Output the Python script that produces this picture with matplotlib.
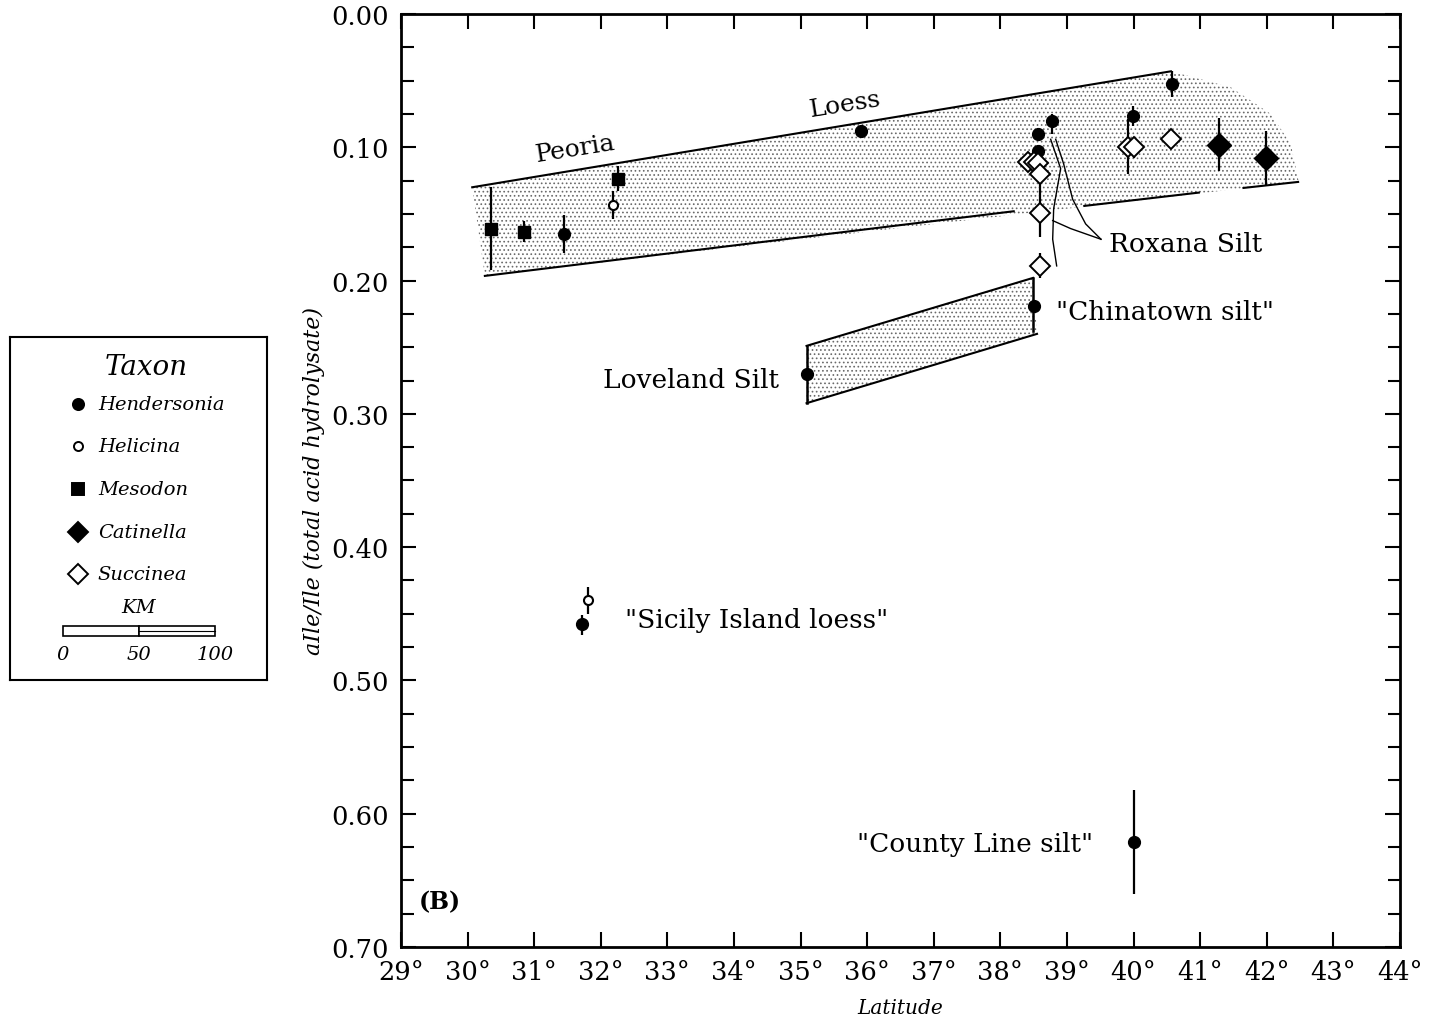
import numpy as np
import matplotlib
matplotlib.use('Agg')
import matplotlib.pyplot as plt
from matplotlib.ticker import MultipleLocator, FuncFormatter
from matplotlib.patches import Rectangle

plt.rcParams['font.family'] = ['DejaVu Serif']
plt.rcParams['hatch.linewidth'] = 0.7

# --- data (latitude, aIle/Ile, error bar below, error bar above) ---
hend_lat = [31.45, 35.91, 38.57, 38.57, 38.78, 39.99, 40.57, 38.50, 35.09, 31.72, 40.00]
hend_val = [0.165, 0.088, 0.090, 0.103, 0.080, 0.0765, 0.0525, 0.219, 0.270, 0.458, 0.621]
hend_lo = [0.014, 0.005, 0.0, 0.0, 0.005, 0.0075, 0.0095, 0.0, 0.0, 0.007, 0.039]
hend_hi = [0.014, 0.005, 0.0, 0.0, 0.010, 0.0075, 0.0095, 0.0, 0.0, 0.008, 0.039]

heli_lat = [32.19, 31.81]
heli_val = [0.143, 0.440]
heli_lo = [0.010, 0.010]
heli_hi = [0.011, 0.010]

meso_lat = [30.35, 30.85, 32.26]
meso_val = [0.161, 0.1635, 0.124]
meso_lo = [0.031, 0.0085, 0.010]
meso_hi = [0.031, 0.0075, 0.009]

cati_lat = [41.28, 41.99]
cati_val = [0.098, 0.108]
cati_lo = [0.020, 0.020]
cati_hi = [0.020, 0.021]

succ_lat = [38.41, 38.50, 38.56, 38.60, 38.60, 38.60, 39.91, 40.00, 40.56]
succ_val = [0.111, 0.111, 0.112, 0.120, 0.149, 0.189, 0.100, 0.100, 0.094]
succ_lo = [0.0, 0.0, 0.0, 0.0, 0.025, 0.010, 0.021, 0.007, 0.0]
succ_hi = [0.0, 0.0, 0.0, 0.0, 0.018, 0.009, 0.020, 0.008, 0.0]

# Peoria Loess band outline
peoria_top_lat = [30.07, 40.56]
peoria_top_val = [0.130, 0.043]
peoria_corner_lat = [40.56, 41.46, 42.06, 42.36, 42.48]
peoria_corner_val = [0.043, 0.055, 0.075, 0.0975, 0.126]
peoria_bot_lat = [42.48, 30.26]
peoria_bot_val = [0.126, 0.1965]
peoria_edges_lat = [[30.26, 38.20], [39.26, 40.98], [41.65, 42.47]]
peoria_edges_val = [[0.1965, 0.148], [0.144, 0.134], [0.1305, 0.126]]

# Loveland Silt band outline
love_lat = [35.09, 38.49, 38.55, 35.09]
love_val = [0.249, 0.198, 0.240, 0.292]

# Roxana Silt brace
brace_lat = [[38.755, 38.905, 38.80, 38.785, 38.845],
             [38.83, 38.95, 39.085, 39.28, 39.51],
             [38.785, 39.055, 39.51]]
brace_val = [[0.094, 0.116, 0.146, 0.169, 0.189],
             [0.094, 0.1125, 0.139, 0.1575, 0.169],
             [0.155, 0.161, 0.169]]

lat_ticks = list(range(29, 45))

fig = plt.figure(figsize=(14.34, 10.2), dpi=100)
ax = fig.add_axes([0.2796, 0.0706, 0.6967, 0.9147])

# bands
band_lat = peoria_top_lat + peoria_corner_lat[1:] + peoria_bot_lat[1:]
band_val = peoria_top_val + peoria_corner_val[1:] + peoria_bot_val[1:]
ax.fill(band_lat, band_val, facecolor='white', edgecolor='#6a6a6a', hatch='....', linewidth=0, zorder=1)
ax.plot(peoria_top_lat, peoria_top_val, color='black', lw=1.5, zorder=2)
for la, va in zip(peoria_edges_lat, peoria_edges_val):
    ax.plot(la, va, color='black', lw=1.5, zorder=2)

ax.fill(love_lat, love_val, facecolor='white', edgecolor='#6a6a6a', hatch='....', linewidth=0, zorder=1)
ax.plot(love_lat[:2], love_val[:2], color='black', lw=1.5, zorder=2)
ax.plot(love_lat[2:], love_val[2:], color='black', lw=1.5, zorder=2)
ax.plot([love_lat[0], love_lat[3]], [love_val[0], love_val[3]], color='black', lw=1.8, zorder=2)
ax.plot([love_lat[1], love_lat[1]], [love_val[1], love_val[2] - 0.002], color='black', lw=1.8, zorder=2)

for la, va in zip(brace_lat, brace_val):
    ax.plot(la, va, color='black', lw=1.0, zorder=2)

# points
ekw = dict(ecolor='black', elinewidth=1.6, capsize=0, linestyle='none', zorder=4)
ax.errorbar(hend_lat, hend_val, yerr=[hend_lo, hend_hi], fmt='o', ms=8.5,
            mfc='black', mec='black', **ekw)
ax.errorbar(heli_lat, heli_val, yerr=[heli_lo, heli_hi], fmt='o', ms=6.5,
            mfc='white', mec='black', mew=1.5, **ekw)
ax.errorbar(meso_lat, meso_val, yerr=[meso_lo, meso_hi], fmt='s', ms=9,
            mfc='black', mec='black', **ekw)
ax.errorbar(cati_lat, cati_val, yerr=[cati_lo, cati_hi], fmt='D', ms=12.5,
            mfc='black', mec='black', **ekw)
ax.errorbar(succ_lat, succ_val, yerr=[succ_lo, succ_hi], fmt='D', ms=10.5,
            mfc='white', mec='black', mew=1.4, **ekw)

# labels
tkw = dict(fontsize=19, color='black')
ax.text(31.62, 0.101, 'Peoria', rotation=9, ha='center', va='center', fontsize=18)
ax.text(35.67, 0.0675, 'Loess', rotation=9, ha='center', va='center', fontsize=18)
ax.text(39.63, 0.1725, 'Roxana Silt', ha='left', va='center', **tkw)
ax.text(38.83, 0.2235, '"Chinatown silt"', ha='left', va='center', **tkw)
ax.text(34.67, 0.274, 'Loveland Silt', ha='right', va='center', **tkw)
ax.text(32.37, 0.454, '"Sicily Island loess"', ha='left', va='center', **tkw)
ax.text(39.39, 0.6225, '"County Line silt"', ha='right', va='center', **tkw)
ax.text(29.26, 0.666, '(B)', ha='left', va='center', fontsize=17, fontweight='bold')

ax.set_xlim(29, 44)
ax.set_ylim(0.70, 0.0)
ax.set_xticks(lat_ticks)
ax.xaxis.set_major_formatter(FuncFormatter(lambda v, p: '%d°' % v))
ax.yaxis.set_major_locator(MultipleLocator(0.1))
ax.yaxis.set_minor_locator(MultipleLocator(0.025))
ax.yaxis.set_major_formatter(FuncFormatter(lambda v, p: '%.2f' % v))
ax.tick_params(axis='both', which='both', direction='in', top=True, right=True,
               width=1.5, labelsize=18.5)
ax.tick_params(axis='x', which='major', length=11, pad=9)
ax.tick_params(axis='y', which='major', length=11, pad=9)
ax.tick_params(axis='y', which='minor', length=9)
for s in ax.spines.values():
    s.set_linewidth(2)
ax.set_xlabel('Latitude', fontsize=14.5, style='italic', labelpad=10)
ax.set_ylabel('aIle/Ile (total acid hydrolysate)', fontsize=16, style='italic', labelpad=4)

# legend panel
lax = fig.add_axes([0.007, 0.332, 0.179, 0.337])
lax.set_xlim(0, 1)
lax.set_ylim(0, 1)
lax.set_xticks([])
lax.set_yticks([])
for s in lax.spines.values():
    s.set_linewidth(1.5)

taxa = ['Hendersonia', 'Helicina', 'Mesodon', 'Catinella', 'Succinea']
markers = [('o', 8, 'black'), ('o', 6.5, 'white'), ('s', 8, 'black'),
           ('D', 10, 'black'), ('D', 10, 'white')]
lax.text(0.53, 0.9125, 'Taxon', ha='center', va='center', fontsize=20, style='italic')
ys = np.linspace(0.805, 0.309, len(taxa))
for name, (m, ms, fc), y in zip(taxa, markers, ys):
    lax.plot([0.265], [y], marker=m, ms=ms, mfc=fc, mec='black', mew=1.4, linestyle='none')
    lax.text(0.342, y, name, ha='left', va='center', fontsize=14, style='italic')

lax.text(0.50, 0.213, 'KM', ha='center', va='center', fontsize=14, style='italic')
lax.add_patch(Rectangle((0.206, 0.128), 0.296, 0.029, facecolor='white', edgecolor='black', lw=1.2))
lax.add_patch(Rectangle((0.502, 0.128), 0.296, 0.029, facecolor='white', edgecolor='black', lw=1.2))
lax.plot([0.502, 0.798], [0.1425, 0.1425], color='black', lw=0.8)
for x, lab in zip([0.206, 0.502, 0.798], ['0', '50', '100']):
    lax.text(x, 0.076, lab, ha='center', va='center', fontsize=14, style='italic')

fig.savefig('out.png', dpi=100)
